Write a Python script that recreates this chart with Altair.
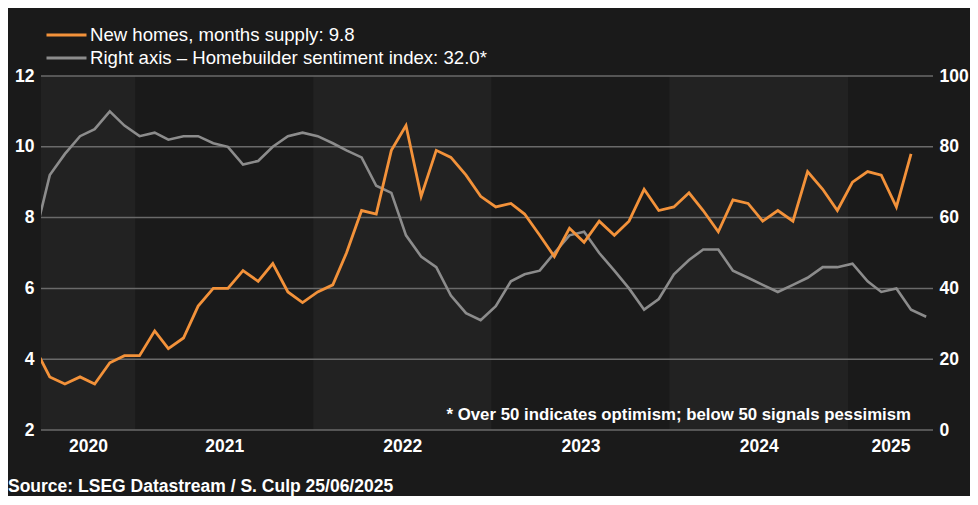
import altair as alt
import pandas as pd

# ---------------- data ----------------
LABEL_SUPPLY = "New homes, months supply: 9.8"
LABEL_SENT = "Right axis \u2013 Homebuilder sentiment index: 32.0*"
SOURCE = "Source: LSEG Datastream / S. Culp 25/06/2025"
NOTE = "* Over 50 indicates optimism; below 50 signals pessimism"

# monthly, June 2020 -> May 2025
supply = [
    4.3, 3.5, 3.3, 3.5, 3.3, 3.9, 4.1,
    4.1, 4.8, 4.3, 4.6, 5.5, 6.0, 6.0, 6.5, 6.2, 6.7, 5.9, 5.6,
    5.9, 6.1, 7.0, 8.2, 8.1, 9.9, 10.6, 8.6, 9.9, 9.7, 9.2, 8.6,
    8.3, 8.4, 8.1, 7.5, 6.9, 7.7, 7.3, 7.9, 7.5, 7.9, 8.8, 8.2,
    8.3, 8.7, 8.2, 7.6, 8.5, 8.4, 7.9, 8.2, 7.9, 9.3, 8.8, 8.2,
    9.0, 9.3, 9.2, 8.3, 9.8,
]
# monthly, June 2020 -> June 2025
sentiment = [
    55, 72, 78, 83, 85, 90, 86,
    83, 84, 82, 83, 83, 81, 80, 75, 76, 80, 83, 84,
    83, 81, 79, 77, 69, 67, 55, 49, 46, 38, 33, 31,
    35, 42, 44, 45, 50, 55, 56, 50, 45, 40, 34, 37,
    44, 48, 51, 51, 45, 43, 41, 39, 41, 43, 46, 46,
    47, 42, 39, 40, 34, 32,
]
light_years = [2020, 2022, 2024]
label_years = [2020, 2021, 2022, 2023, 2024, 2025]
left_ticks = [2, 4, 6, 8, 10, 12]
right_ticks = [0, 20, 40, 60, 80, 100]

ORANGE = "#f3923a"
GREY = "#8c8c8c"
BG = "#1a1a1a"
BAND = "#222222"
GRID = "#6a6a6a"
FONT = "Liberation Sans"


def month_dates(n):
    out = []
    y, m = 2020, 6
    for _ in range(n):
        out.append(f"{y}-{m:02d}-10")
        m += 1
        if m == 13:
            m, y = 1, y + 1
    return out


def ms(s):
    return int(pd.Timestamp(s, tz="UTC").timestamp() * 1000)


supply_df = pd.DataFrame({"date": month_dates(len(supply)), "value": supply, "series": LABEL_SUPPLY})
sent_df = pd.DataFrame({"date": month_dates(len(sentiment)), "value": sentiment, "series": LABEL_SENT})
band_df = pd.DataFrame({
    "start": [f"{y}-01-01" for y in light_years],
    "end": [f"{y + 1}-01-01" for y in light_years],
})
grid_df = pd.DataFrame({"v": left_ticks})

D0, D1 = ms("2020-06-22"), ms("2025-06-24")
mids = []
for y in label_years:
    s = max(ms(f"{y}-01-01"), D0)
    e = min(ms(f"{y + 1}-01-01"), D1)
    mids.append((s + e) / 2)

xscale = alt.Scale(type="utc", domain=[D0, D1])
xaxis = alt.Axis(
    title=None, values=mids, format="%Y", domain=False, ticks=False, grid=False,
    labelColor="white", labelFont=FONT, labelFontWeight="bold", labelFontSize=17.5,
    labelPadding=7, labelFlush=False, labelOverlap=False,
)
color = alt.Color(
    "series:N",
    scale=alt.Scale(domain=[LABEL_SUPPLY, LABEL_SENT], range=[ORANGE, GREY]),
    legend=alt.Legend(
        title=None, orient="none", legendX=4, legendY=-51, symbolType="stroke",
        symbolSize=1600, symbolStrokeWidth=3, clipHeight=20, rowPadding=3,
        labelOffset=2, labelFontSize=18.6, labelColor="white", labelFont=FONT,
        labelLimit=800, padding=0, symbolOpacity=1,
    ),
)

bands = alt.Chart(band_df).mark_rect(color=BAND, clip=True).encode(
    x=alt.X("start:T", scale=xscale, axis=xaxis),
    x2="end:T",
)

grid = alt.Chart(grid_df).mark_rule(color=GRID, strokeWidth=1.5).encode(
    y=alt.Y("v:Q", scale=alt.Scale(domain=[2, 12], nice=False), axis=None),
)

orange = alt.Chart(supply_df).mark_line(strokeWidth=2.8, clip=True).encode(
    x=alt.X("date:T", scale=xscale, axis=xaxis),
    y=alt.Y("value:Q", scale=alt.Scale(domain=[2, 12], nice=False),
            axis=alt.Axis(orient="left", values=left_ticks, title=None, grid=False,
                          domain=False, ticks=False, labelColor="white", labelFont=FONT,
                          labelFontWeight="bold", labelFontSize=17.5, labelPadding=7)),
    color=color,
)

grey = alt.Chart(sent_df).mark_line(strokeWidth=2.6, clip=True).encode(
    x=alt.X("date:T", scale=xscale, axis=xaxis),
    y=alt.Y("value:Q", scale=alt.Scale(domain=[0, 100], nice=False),
            axis=alt.Axis(orient="right", values=right_ticks, title=None, grid=False,
                          domain=False, ticks=False, labelColor="white", labelFont=FONT,
                          labelFontWeight="bold", labelFontSize=17.5, labelPadding=6)),
    color=color,
)

source = alt.Chart(pd.DataFrame({"t": [SOURCE]})).mark_text(
    align="left", baseline="middle", color="white", font=FONT, fontWeight="bold", fontSize=17.5,
).encode(text="t:N", x=alt.value(-33), y=alt.value(411))

note = alt.Chart(pd.DataFrame({"t": [NOTE]})).mark_text(
    align="right", baseline="middle", color="white", font=FONT, fontWeight="bold", fontSize=16.8,
).encode(text="t:N", x=alt.value(870), y=alt.value(339))

chart = alt.layer(bands, grid, grey, orange, source, note).resolve_scale(
    y="independent"
).properties(
    width=892, height=354,
    autosize=alt.AutoSizeParams(type="none"),
    padding={"left": 33, "top": 68, "right": 37, "bottom": 66},
    background=BG,
).configure_view(stroke=None)

chart.save("out.html", embed_options={"renderer": "svg", "actions": False})
